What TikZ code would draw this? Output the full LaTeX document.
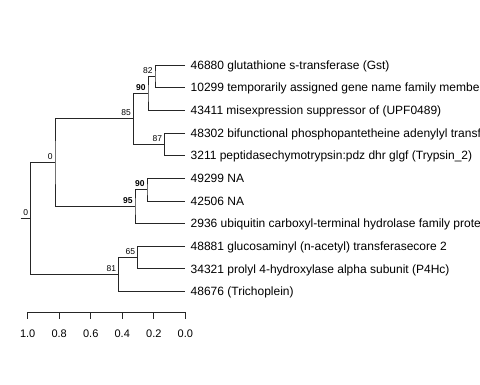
\documentclass[tikz,border=0pt]{standalone}
\usepackage{fontspec}
\setmainfont{Liberation Sans}
\begin{document}
\begin{tikzpicture}[x=1pt,y=-1pt,
  branch/.style={draw=black!85,line width=0.8pt},
  leaf/.style={anchor=base west,inner sep=0pt,yshift=-4.3pt,font=\fontsize{12}{14}\selectfont},
  blab/.style={anchor=south east,inner sep=0pt,xshift=-2.3pt,yshift=3pt,font=\fontsize{8.5}{10}\selectfont},
  bblab/.style={blab,font=\fontsize{8.5}{10}\selectfont\bfseries},
  ticklab/.style={anchor=base,inner sep=0pt,font=\fontsize{11}{13}\selectfont}]
\clip (0,0) rectangle (480,384);
% leaves
\foreach \i/\t in {0/46880 glutathione s-transferase (Gst),
  1/10299 temporarily assigned gene name family membe,
  2/43411 misexpression suppressor of (UPF0489),
  3/48302 bifunctional phosphopantetheine adenylyl transf,
  4/3211 peptidasechymotrypsin:pdz dhr glgf (Trypsin\_2),
  5/49299 NA,
  6/42506 NA,
  7/2936 ubiquitin carboxyl-terminal hydrolase family prote,
  8/48881 glucosaminyl (n-acetyl) transferasecore 2,
  9/34321 prolyl 4-hydroxylase alpha subunit (P4Hc),
  10/48676 (Trichoplein)}{
  \coordinate (l\i) at (185,{65+22.65*\i});
  \node[leaf] (t\i) at (190.5,{65+22.65*\i}) {\t};
}
% internal nodes
\coordinate (n82) at (155,76.3);
\coordinate (n90a) at (148,93.3);
\coordinate (n87) at (164.7,144.3);
\coordinate (n85) at (133.3,118.8);
\coordinate (n90b) at (147,189.6);
\coordinate (n95) at (135,206.6);
\coordinate (n0a) at (55,162.7);
\coordinate (n65) at (137.7,257.5);
\coordinate (n81) at (118.7,274.5);
\coordinate (root) at (30.7,218.6);
\coordinate (stub) at (20.7,218.6);
% branches
\draw[branch] (l0) -| (n82) |- (l1);
\draw[branch] (n82) -| (n90a) |- (l2);
\draw[branch] (l3) -| (n87) |- (l4);
\draw[branch] (n90a) -| (n85) |- (n87);
\draw[branch] (l5) -| (n90b) |- (l6);
\draw[branch] (n90b) -| (n95) |- (l7);
\draw[branch] (n85) -| (n0a) |- (n95);
\draw[branch] (l8) -| (n65) |- (l9);
\draw[branch] (n65) -| (n81) |- (l10);
\draw[branch] (n0a) -| (root) |- (n81);
\draw[branch] (stub) -- (root);
% support labels
\node[blab] at (n82) {82};
\node[bblab] at (n90a) {90};
\node[blab] at (n87) {87};
\node[blab] at (n85) {85};
\node[bblab] at (n90b) {90};
\node[bblab] at (n95) {95};
\node[blab] at (n0a) {0};
\node[blab] at (n65) {65};
\node[blab] at (n81) {81};
\node[blab] at (root) {0};
% axis
\coordinate (ax0) at (27.7,312.3);
\coordinate (ax1) at (185.3,312.3);
\draw[branch] (ax0) -- (ax1);
\foreach \v/\lab [count=\k from 0] in {0/1.0,1/0.8,2/0.6,3/0.4,4/0.2,5/0.0}{
  \draw[branch] ({27.7+31.52*\v},312.3) -- ({27.7+31.52*\v},319);
  \node[ticklab] (tk\k) at ({27.7+31.52*\v},337.9) {\lab};
}
\end{tikzpicture}
\end{document}
